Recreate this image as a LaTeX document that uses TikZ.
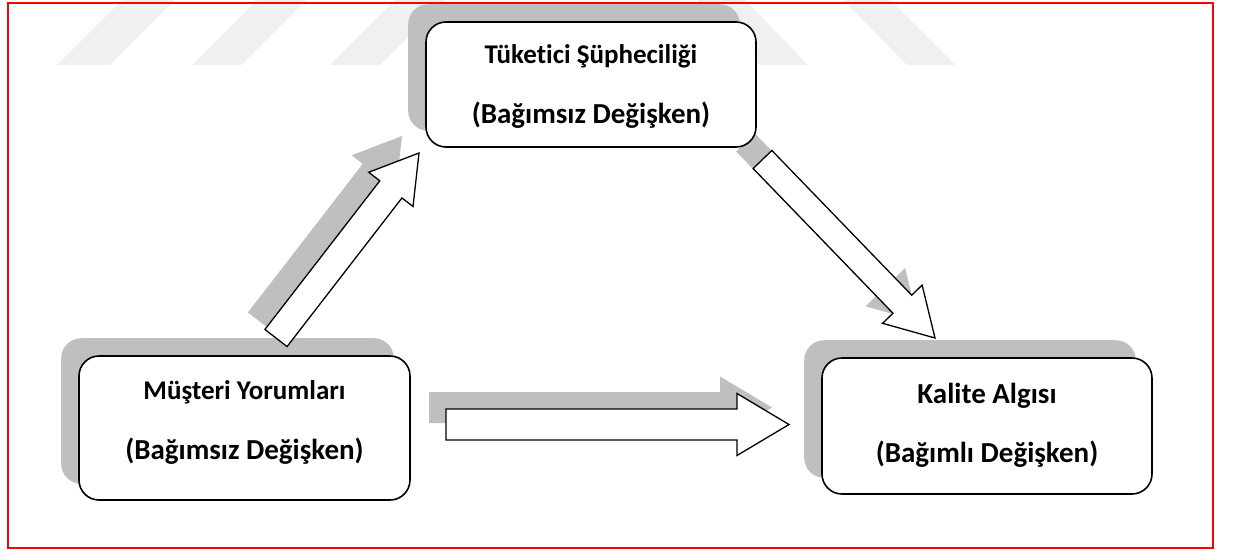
\documentclass[tikz,border=0pt]{standalone}
\usepackage{fontspec}
\setmainfont{Carlito}[Ligatures=NoCommon]
\usetikzlibrary{calc}
\pgfdeclarelayer{marklayer}
\pgfdeclarelayer{shadowlayer}
\pgfsetlayers{marklayer,shadowlayer,main}
\definecolor{shadegray}{HTML}{BFBFBF}
\definecolor{markgray}{HTML}{F0F0F0}
\definecolor{framered}{HTML}{FF0000}

% block arrow: #1 style, #2 tail, #3 tip, #4 shaft half width, #5 head half width, #6 head length
\newcommand\blockarr[6]{%
  \coordinate (hb) at ($(#3)!#6pt!(#2)$);
  \path[#1] ($(#2)!#4pt!90:(#3)$) -- ($(hb)!#4pt!90:(#3)$) -- ($(hb)!#5pt!90:(#3)$) -- (#3)
    -- ($(hb)!#5pt!-90:(#3)$) -- ($(hb)!#4pt!-90:(#3)$) -- ($(#2)!#4pt!-90:(#3)$) -- cycle;
}

\begin{document}
\begin{tikzpicture}[x=1pt,y=-1pt,
  box/.style={draw=black, line width=1.6pt, fill=white, rounded corners=20pt, inner sep=0pt},
  shadebox/.style={fill=shadegray, rounded corners=20pt},
  blk/.style={draw=black, line width=1.3pt, fill=white, line join=miter},
  blkshade/.style={fill=shadegray},
  smalltxt/.style={anchor=base, inner sep=0pt, font=\bfseries\fontsize{27}{31}\selectfont},
  bigtxt/.style={anchor=base, inner sep=0pt, font=\bfseries\fontsize{29}{33}\selectfont},
]
\useasboundingbox (0,0) rectangle (1234,549);

% page and faint background marks
\begin{pgfonlayer}{marklayer}
  \fill[white] (0,0) rectangle (1234,549);
  \fill[markgray] (57,65) -- (110,65) -- (175,0) -- (122,0) -- cycle;
  \fill[markgray] (192,65) -- (241,65) -- (306,0) -- (257,0) -- cycle;
  \fill[markgray] (330,65) -- (380,65) -- (445,0) -- (395,0) -- cycle;
  \fill[markgray] (697,0) -- (745,0) -- (808,65) -- (760,65) -- cycle;
  \fill[markgray] (843,0) -- (890,0) -- (955,65) -- (907,65) -- cycle;
\end{pgfonlayer}

% boxes
\node[box, minimum width=330pt, minimum height=125pt] (ts) at (591,84.5) {};
\node[box, minimum width=331pt, minimum height=144pt] (my) at (244.5,428) {};
\node[box, minimum width=330pt, minimum height=136pt] (ka) at (987,426) {};

% labels
\node[smalltxt] (tsA) at (591,63) {Tüketici Şüpheciliği};
\node[bigtxt]   (tsB) at (591,123) {(Bağımsız Değişken)};
\node[smalltxt] (myA) at (244.5,399) {Müşteri Yorumları};
\node[bigtxt]   (myB) at (244.5,459) {(Bağımsız Değişken)};
\node[bigtxt]   (kaA) at (987,403) {Kalite Algısı};
\node[bigtxt]   (kaB) at (987,462) {(Bağımlı Değişken)};

% arrow end points
\coordinate (upT) at (276,338);
\coordinate (upP) at (419,153);
\coordinate (dnT) at (762.5,159.5);
\coordinate (dnP) at (935,338);
\coordinate (hzT) at (446,424.5);
\coordinate (hzP) at (789,424.5);

% shadows
\begin{pgfonlayer}{shadowlayer}
  \foreach \b in {ts,my,ka}
    \fill[shadebox] ($(\b.south west)+(-17,-17)$) rectangle ($(\b.north east)+(-17,-17)$);
  \foreach \a in {upT,upP,dnT,dnP,hzT,hzP}
    \coordinate (\a s) at ($(\a)+(-17,-17)$);
  \blockarr{blkshade}{upTs}{upPs}{14}{28}{46}
  \blockarr{blkshade}{dnTs}{dnPs}{13}{27.5}{47}
  \blockarr{blkshade}{hzTs}{hzPs}{15.5}{31}{52}
\end{pgfonlayer}

% arrows
\blockarr{blk}{upT}{upP}{14}{28}{46}
\blockarr{blk}{dnT}{dnP}{13}{27.5}{47}
\blockarr{blk}{hzT}{hzP}{15.5}{31}{52}

% frame
\draw[framered, line width=2.5pt] (8,3) rectangle (1213,548);
\end{tikzpicture}
\end{document}
